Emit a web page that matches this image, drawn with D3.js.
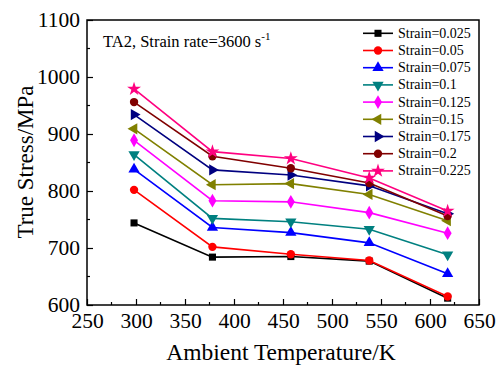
<!doctype html>
<html>
<head>
<script src="https://d3js.org/d3.v7.min.js"></script>
<style>
  body { margin:0; background:#fff; }
  svg text { font-family:"Liberation Serif","Times New Roman",serif; fill:#000; }
</style>
</head>
<body>
<script>
// temperatures (K)
var temps = [298, 378, 458, 538, 618];
var strainNames = ["Strain=0.025","Strain=0.05","Strain=0.075","Strain=0.1","Strain=0.125","Strain=0.15","Strain=0.175","Strain=0.2","Strain=0.225"];
// true stress (MPa) for each strain
var s025 = [744, 684, 685, 677, 612];
var s050 = [802, 702, 689, 678, 615];
var s075 = [838, 736, 727, 709, 655];
var s100 = [864, 752, 746, 733, 688];
var s125 = [889, 783, 781, 762, 726];
var s150 = [909, 811, 813, 794, 748];
var s175 = [934, 837, 828, 809, 760];
var s200 = [956, 861, 840, 814, 756];
var s225 = [979, 869, 857, 823, 765];
var allSeries = [s025, s050, s075, s100, s125, s150, s175, s200, s225];
var colors = ["#000000","#ff0000","#0000ff","#008080","#ff00ff","#808000","#000080","#800000","#ff0080"];
var xTicks = [250,300,350,400,450,500,550,600,650];
var yTicks = [600,700,800,900,1000,1100];

var W = 503, H = 367;
var pL = 87, pR = 479, pT = 20, pB = 305;

var svg = d3.select("body").append("svg").attr("width",W).attr("height",H);

var x = d3.scaleLinear().domain([250,650]).range([pL,pR]);
var y = d3.scaleLinear().domain([600,1100]).range([pB,pT]);

// axes, ticks inward
var xMinor = d3.range(275,650,50);
var yMinor = d3.range(650,1100,100);
var gx = svg.append("g").attr("transform","translate(0,"+pB+")")
   .call(d3.axisBottom(x).tickValues(xTicks).tickFormat(d3.format("d")).tickSizeInner(-6).tickSizeOuter(0).tickPadding(8));
var gy = svg.append("g").attr("transform","translate("+pL+",0)")
   .call(d3.axisLeft(y).tickValues(yTicks).tickFormat(d3.format("d")).tickSizeInner(-6).tickSizeOuter(0).tickPadding(7));
[gx,gy].forEach(function(g){
  g.attr("font-family",null).attr("font-size",null);
  g.select(".domain").remove();
  g.selectAll(".tick line").attr("stroke","#000").attr("stroke-width",1.2);
  g.selectAll(".tick text").attr("font-size",21.5);
});
svg.append("g").selectAll("line").data(xMinor).join("line")
   .attr("x1",d=>x(d)).attr("x2",d=>x(d)).attr("y1",pB).attr("y2",pB-3)
   .attr("stroke","#000").attr("stroke-width",1.2);
svg.append("g").selectAll("line").data(yMinor).join("line")
   .attr("x1",pL).attr("x2",pL+3).attr("y1",d=>y(d)).attr("y2",d=>y(d))
   .attr("stroke","#000").attr("stroke-width",1.2);

// frame
svg.append("rect").attr("x",pL).attr("y",pT).attr("width",pR-pL).attr("height",pB-pT)
   .attr("fill","none").attr("stroke","#000").attr("stroke-width",1.5);

// axis titles
svg.append("text").attr("x",(pL+pR)/2 - 2).attr("y",360).attr("text-anchor","middle")
   .attr("font-size",23.5).text("Ambient Temperature/K");
svg.append("text").attr("transform","translate(33,162) rotate(-90)")
   .attr("text-anchor","middle").attr("font-size",23).text("True Stress/MPa");

// annotation
var ann = svg.append("text").attr("x",103).attr("y",47).attr("font-size",16.5);
ann.append("tspan").text("TA2, Strain rate=3600 s");
ann.append("tspan").attr("dy",-7).attr("font-size",11).text("-1");

// marker shapes
var symbols = [
  d3.symbol().type(d3.symbolSquare).size(50),
  d3.symbol().type(d3.symbolCircle).size(55),
  d3.symbol().type(d3.symbolTriangle).size(55),
  d3.symbol().type(d3.symbolTriangle).size(55),
  d3.symbol().type(d3.symbolDiamond).size(55),
  d3.symbol().type(d3.symbolTriangle).size(55),
  d3.symbol().type(d3.symbolTriangle).size(55),
  d3.symbol().type(d3.symbolCircle).size(55),
  d3.symbol().type(d3.symbolStar).size(60)
];
var rotations = [0,0,0,180,0,-90,90,0,0];

var line = d3.line().x((d,i)=>x(temps[i])).y(d=>y(d));

allSeries.forEach(function(vals, k){
  var g = svg.append("g");
  g.append("path").datum(vals).attr("d",line).attr("fill","none")
    .attr("stroke",colors[k]).attr("stroke-width",1.6);
  g.selectAll("path.m").data(vals).join("path").attr("class","m")
    .attr("d",symbols[k]())
    .attr("transform",(d,i)=>"translate("+x(temps[i])+","+y(d)+") rotate("+rotations[k]+")")
    .attr("fill",colors[k]);
});

// legend
var lg = svg.append("g");
strainNames.forEach(function(name,k){
  var ly = 33.3 + k*17.2;
  lg.append("line").attr("x1",363).attr("x2",393).attr("y1",ly).attr("y2",ly)
    .attr("stroke",colors[k]).attr("stroke-width",1.6);
  lg.append("path").attr("d",symbols[k]())
    .attr("transform","translate(378,"+ly+") rotate("+rotations[k]+")")
    .attr("fill",colors[k]);
  lg.append("text").attr("x",398).attr("y",ly+4.5).attr("font-size",14).text(name);
});
</script>
</body>
</html>
